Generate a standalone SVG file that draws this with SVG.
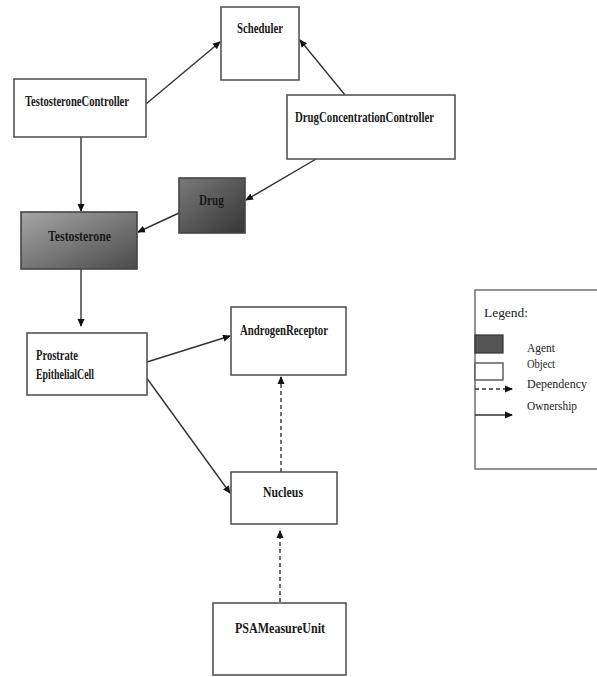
<svg xmlns="http://www.w3.org/2000/svg" width="597" height="677" viewBox="0 0 597 677">
<style>
.box{fill:#fff;stroke:#555;stroke-width:1.6}
.t{font-family:"Liberation Serif",serif;font-weight:bold;font-size:14px;fill:#1a1a1a}
.lg{font-family:"Liberation Serif",serif;font-size:12px;fill:#222}
.c{stroke:#333;stroke-width:1.4;fill:none}
.d{stroke-dasharray:4,3}
</style>
<defs>
<marker id="ah" markerWidth="8" markerHeight="8" refX="7" refY="4" orient="auto" markerUnits="userSpaceOnUse">
<path d="M0,0.5 L8,4 L0,7.5 z" fill="#111"/>
</marker>
<linearGradient id="gT" x1="0" y1="0" x2="1" y2="1">
<stop offset="0" stop-color="#a6a6a6"/><stop offset="1" stop-color="#4a4a4a"/>
</linearGradient>
<linearGradient id="gD" x1="0" y1="0" x2="1" y2="1">
<stop offset="0" stop-color="#7a7a7a"/><stop offset="1" stop-color="#353535"/>
</linearGradient>
</defs>
<rect width="597" height="677" fill="#fff"/>
<g id="connectors">
<line class="c" x1="146" y1="104" x2="220" y2="42" marker-end="url(#ah)"/>
<line class="c" x1="345" y1="95" x2="300" y2="40" marker-end="url(#ah)"/>
<line class="c" x1="316" y1="159" x2="246" y2="200" marker-end="url(#ah)"/>
<line class="c" x1="81" y1="137" x2="81" y2="211" marker-end="url(#ah)"/>
<line class="c" x1="179" y1="213" x2="138" y2="232" marker-end="url(#ah)"/>
<line class="c" x1="81" y1="269" x2="81" y2="326" marker-end="url(#ah)"/>
<line class="c" x1="147" y1="362" x2="230" y2="336" marker-end="url(#ah)"/>
<line class="c" x1="146" y1="377" x2="230" y2="493" marker-end="url(#ah)"/>
<line class="c d" x1="281" y1="472" x2="281" y2="377" marker-end="url(#ah)"/>
<line class="c d" x1="280" y1="602" x2="280" y2="531" marker-end="url(#ah)"/>
</g>
<g id="scheduler">
<rect class="box" x="221" y="7" width="78" height="73"/>
<text class="t" x="237" y="33" textLength="46" lengthAdjust="spacingAndGlyphs">Scheduler</text>
</g>
<g id="testosteroneController">
<rect class="box" x="14" y="79" width="132" height="58"/>
<text class="t" x="25" y="106" textLength="104" lengthAdjust="spacingAndGlyphs">TestosteroneController</text>
</g>
<g id="drugConcentrationController">
<rect class="box" x="287" y="95" width="168" height="64"/>
<text class="t" x="295" y="122" textLength="139" lengthAdjust="spacingAndGlyphs">DrugConcentrationController</text>
</g>
<g id="drug">
<rect x="179" y="178" width="66" height="55" fill="url(#gD)" stroke="#444" stroke-width="1.6"/>
<text class="t" x="199" y="205" textLength="25" lengthAdjust="spacingAndGlyphs">Drug</text>
</g>
<g id="testosterone">
<rect x="21" y="212" width="116" height="57" fill="url(#gT)" stroke="#444" stroke-width="1.6"/>
<text class="t" x="48" y="241" textLength="63" lengthAdjust="spacingAndGlyphs">Testosterone</text>
</g>
<g id="prostrateEpithelialCell">
<rect class="box" x="27" y="333" width="120" height="62"/>
<text class="t" x="36" y="360" textLength="42" lengthAdjust="spacingAndGlyphs">Prostrate</text>
<text class="t" x="36" y="379" textLength="58" lengthAdjust="spacingAndGlyphs">EpithelialCell</text>
</g>
<g id="androgenReceptor">
<rect class="box" x="231" y="307" width="115" height="68"/>
<text class="t" x="240" y="335" textLength="88" lengthAdjust="spacingAndGlyphs">AndrogenReceptor</text>
</g>
<g id="nucleus">
<rect class="box" x="231" y="472" width="106" height="52"/>
<text class="t" x="263" y="497" textLength="40" lengthAdjust="spacingAndGlyphs">Nucleus</text>
</g>
<g id="psaMeasureUnit">
<rect class="box" x="213" y="603" width="133" height="72"/>
<text class="t" x="235" y="633" textLength="90" lengthAdjust="spacingAndGlyphs">PSAMeasureUnit</text>
</g>
<g id="legend">
<rect x="475" y="290" width="130" height="179" fill="#fff" stroke="#666" stroke-width="1.4"/>
<text class="lg" x="484" y="317" font-size="16" textLength="44" lengthAdjust="spacingAndGlyphs">Legend:</text>
<rect x="475" y="335" width="28" height="18" fill="#555" stroke="#333" stroke-width="1.2"/>
<rect x="475" y="363" width="28" height="17" fill="#fff" stroke="#555" stroke-width="1.4"/>
<line class="c d" x1="475" y1="389" x2="512" y2="389" stroke-dasharray="3,2" marker-end="url(#ah)"/>
<line class="c" x1="475" y1="415" x2="512" y2="415" marker-end="url(#ah)"/>
<text class="lg" x="527" y="352" textLength="28" lengthAdjust="spacingAndGlyphs">Agent</text>
<text class="lg" x="527" y="368" textLength="28" lengthAdjust="spacingAndGlyphs">Object</text>
<text class="lg" x="527" y="388" textLength="60" lengthAdjust="spacingAndGlyphs">Dependency</text>
<text class="lg" x="527" y="410" textLength="50" lengthAdjust="spacingAndGlyphs">Ownership</text>
</g>
</svg>
